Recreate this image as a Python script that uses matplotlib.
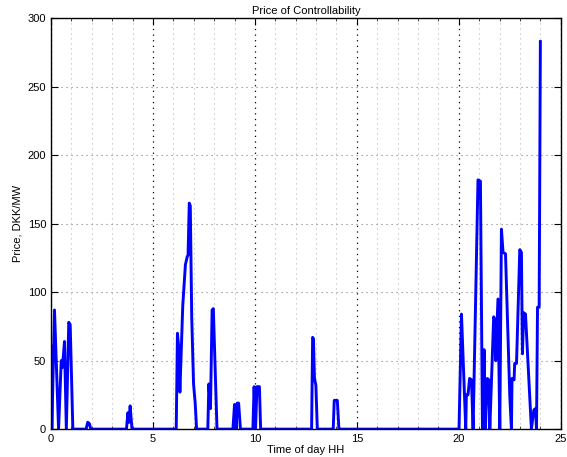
import numpy as np
import matplotlib
matplotlib.use("Agg")
import matplotlib.pyplot as plt
from matplotlib.ticker import MultipleLocator

# price of controllability over the day (hours, DKK/MW)
hours = [0.00, 0.04, 0.17, 0.37, 0.50, 0.56, 0.66, 0.75, 0.87, 0.94, 1.07,
         1.72, 1.80, 1.88, 1.95,
         3.70, 3.77, 3.82, 3.88, 3.97,
         6.14, 6.20, 6.26, 6.32, 6.46, 6.59, 6.68, 6.72, 6.78, 6.83, 6.90, 6.99, 7.07, 7.14,
         7.69, 7.74, 7.82, 7.90, 7.96, 8.14,
         8.92, 9.00, 9.08, 9.13, 9.20, 9.29,
         9.90, 9.96, 10.03, 10.10, 10.22, 10.28,
         12.78, 12.83, 12.87, 12.92, 12.99, 13.06,
         13.84, 13.89, 14.04, 14.12,
         20.01, 20.13, 20.34, 20.37, 20.45, 20.53, 20.62, 20.70,
         20.94, 21.06, 21.16, 21.24, 21.30, 21.40, 21.47, 21.52,
         21.71, 21.76, 21.81, 21.92, 22.01, 22.09, 22.17, 22.29,
         22.50, 22.58, 22.61, 22.71, 22.74, 22.83, 22.99, 23.07,
         23.12, 23.18, 23.27, 23.56, 23.68, 23.76, 23.81, 23.86, 23.94, 24.00]
price = [60, 0, 87, 0, 50, 45, 64, 0, 78, 76, 0,
         0, 5, 4, 0,
         0, 12, 5, 17, 0,
         0, 70, 60, 27, 90, 120, 126, 127, 165, 163, 82, 33, 19, 0,
         0, 33, 15, 87, 88, 0,
         0, 18, 0, 19, 19, 0,
         0, 31, 0, 31, 31, 0,
         0, 67, 66, 37, 32, 0,
         0, 21, 21, 0,
         0, 84, 0, 25, 25, 37, 36, 0,
         182, 181, 0, 58, 0, 37, 36, 0,
         82, 80, 50, 95, 0, 146, 129, 128,
         24, 0, 37, 36, 48, 48, 131, 129,
         55, 85, 84, 0, 14, 15, 0, 89, 89, 283]

plt.rcParams['font.family'] = ['Liberation Sans', 'DejaVu Sans']
plt.rcParams['font.size'] = 8

fig = plt.figure(figsize=(5.67, 4.57), dpi=100)
ax = fig.add_axes([0.09, 0.061, 0.899, 0.899])

ax.plot(hours, price, color=(0, 0, 1), linewidth=2.1, solid_joinstyle='round')

ax.set_xlim(0, 25)
ax.set_ylim(0, 300)
ax.xaxis.set_major_locator(MultipleLocator(5))
ax.xaxis.set_minor_locator(MultipleLocator(1))
ax.yaxis.set_major_locator(MultipleLocator(50))

dots = (0, (1, 3.5))
ax.grid(which='minor', axis='x', color='0.72', linestyle=dots, linewidth=0.8)
ax.grid(which='major', axis='x', color='black', linestyle=dots, linewidth=0.9)
ax.grid(which='major', axis='y', color='0.5', linestyle=dots, linewidth=0.8)
ax.set_axisbelow(True)

ax.tick_params(which='both', direction='in', top=True, right=True)
ax.tick_params(which='major', length=5, width=0.8)
ax.tick_params(which='minor', length=2, width=0.5)
for s in ax.spines.values():
    s.set_linewidth(1.0)

ax.set_title("Price of Controllability", fontsize=8, pad=3)
ax.set_xlabel("Time of day HH", fontsize=8, labelpad=1)
ax.set_ylabel("Price, DKK/MW", fontsize=8, labelpad=4)

fig.savefig("out.png", dpi=100)
